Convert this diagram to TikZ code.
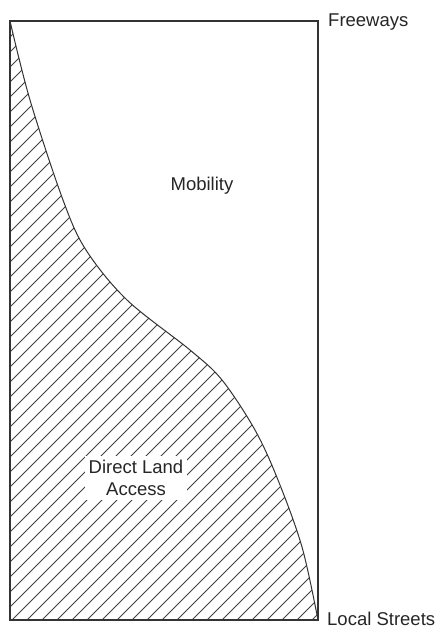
\documentclass[tikz,border=0pt]{standalone}
\usepackage{fontspec}
\setmainfont{Liberation Sans}
\begin{document}
\begin{tikzpicture}[x=1pt,y=-1pt,
  lbl/.style={font=\fontsize{18.5}{22}\selectfont, text=black!85, inner sep=0pt},
  hatch/.style={draw=black!75, line width=0.8pt},
  curveline/.style={draw=black!80, line width=1pt},
  frame/.style={draw=black!80, line width=1.6pt}]
\useasboundingbox (0,0) rectangle (440,629);
\def\curvepts{(10,21) (30,100) (63,200) (86,250) (127,300) (190,350) (222,380) (255,430) (278,480) (302,547) (318,620)}
\begin{scope}
  \clip (10,620) -- plot[smooth,tension=0.55] coordinates {\curvepts} -- cycle;
  \foreach \k in {2,...,63} {
    \pgfmathsetmacro\c{15*\k+2}
    \draw[hatch] (\c-640,640) -- (\c,0);
  }
\end{scope}
\draw[curveline] plot[smooth,tension=0.55] coordinates {\curvepts};
\draw[frame] (10,21) rectangle (318,620);
\node[lbl, anchor=base west] (fw) at (328,27) {Freeways};
\node[lbl, anchor=base west] (ls) at (327,625) {Local Streets};
\node[lbl, anchor=base] (mob) at (202,190) {Mobility};
\node[lbl, align=center, fill=white, inner sep=4pt] (dla) at (136,478) {Direct Land\\Access};
\end{tikzpicture}
\end{document}
